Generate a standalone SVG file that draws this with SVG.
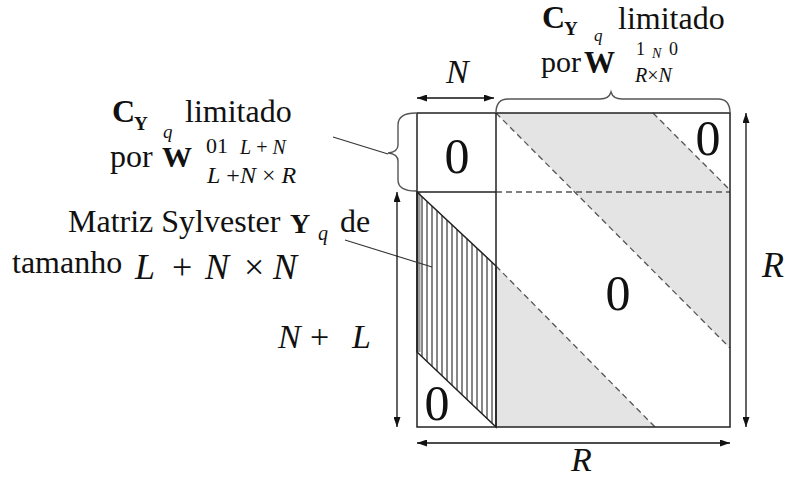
<svg xmlns="http://www.w3.org/2000/svg" width="788" height="479" viewBox="0 0 788 479" font-family="'Liberation Serif', 'Times New Roman', serif">
<defs>
<marker id="ah" viewBox="0 0 10 7" markerWidth="10" markerHeight="7" refX="10" refY="3.5" markerUnits="userSpaceOnUse" orient="auto-start-reverse">
<path d="M0,0 L10,3.5 L0,7 z" fill="#111"/>
</marker>
</defs>
<style>
text{font-family:'Liberation Serif','Times New Roman',serif;fill:#111}
.t{font-size:32px}
.b{font-weight:bold}
.i{font-style:italic}
.z{font-size:50px;text-anchor:middle}
.gray{fill:#e4e4e4;stroke:none}
.dash{stroke:#555;stroke-width:1.3;stroke-dasharray:6 4;fill:none}
.solid{stroke:#222;stroke-width:1.5;fill:none}
.brace{stroke:#555;stroke-width:1.4;fill:none}
.lead{stroke:#333;stroke-width:1.1;fill:none}
.arr{stroke:#111;stroke-width:1.3;fill:none;marker-start:url(#ah);marker-end:url(#ah)}
.hatch{stroke:#111;stroke-width:1}
</style>
<rect width="788" height="479" fill="#fff"/>

<g id="matrix">
<polygon class="gray" points="496,113 653,113 730,190 730,348"/>
<polygon class="gray" points="496,266 655,427 496,427"/>
<g id="sylvester">
<rect x="417" y="192" width="3.5" height="160" fill="#9a9a9a"/>
<g class="hatch">
<line x1="422" y1="196.7" x2="422" y2="356.7"/>
<line x1="427" y1="201.4" x2="427" y2="361.5"/>
<line x1="432" y1="206.1" x2="432" y2="366.2"/>
<line x1="437" y1="210.7" x2="437" y2="371"/>
<line x1="442" y1="215.4" x2="442" y2="375.7"/>
<line x1="447" y1="220.1" x2="447" y2="380.5"/>
<line x1="452" y1="224.8" x2="452" y2="385.2"/>
<line x1="457" y1="229.5" x2="457" y2="390"/>
<line x1="462" y1="234.2" x2="462" y2="394.7"/>
<line x1="467" y1="238.8" x2="467" y2="399.5"/>
<line x1="472" y1="243.5" x2="472" y2="404.2"/>
<line x1="477" y1="248.2" x2="477" y2="409"/>
<line x1="482" y1="252.9" x2="482" y2="413.7"/>
<line x1="487" y1="257.6" x2="487" y2="418.5"/>
<line x1="492" y1="262.3" x2="492" y2="423.2"/>
</g>
<polygon class="solid" points="417,192 496,266 496,427 417,352"/>
</g>
<line class="dash" x1="496" y1="113" x2="730" y2="348"/>
<line class="dash" x1="653" y1="113" x2="730" y2="190"/>
<line class="dash" x1="496" y1="266" x2="655" y2="427"/>
<line class="dash" x1="496" y1="192" x2="730" y2="192"/>
<rect class="solid" x="417" y="113" width="313" height="314"/>
<line class="solid" x1="496" y1="113" x2="496" y2="427"/>
<line class="solid" x1="417" y1="192" x2="496" y2="192"/>
<text class="z" x="457" y="173">0</text>
<text class="z" x="708" y="155">0</text>
<text class="z" x="618" y="310">0</text>
<text class="z" x="437" y="420">0</text>
</g>

<g id="connectors">
<path class="brace" d="M496,113 Q496,99 508,99 L600,99 Q609,99 611,92 Q613,99 622,99 L718,99 Q730,99 730,113"/>
<path class="brace" d="M416,113 Q398,113 398,125 L398,145 Q398,152 388,153 Q398,154 398,161 L398,180 Q398,191 416,191"/>
<line class="lead" x1="333" y1="137" x2="388" y2="154"/>
<line class="lead" x1="345" y1="240" x2="432" y2="267"/>
<line class="arr" x1="417" y1="98" x2="494" y2="98"/>
<line class="arr" x1="397" y1="192" x2="397" y2="427"/>
<line class="arr" x1="746" y1="113" x2="746" y2="427"/>
<line class="arr" x1="417" y1="443" x2="730" y2="443"/>
</g>

<g id="label-top">
<text class="t b" x="542" y="28">C</text>
<text class="b" font-size="19" x="564" y="35">Y</text>
<text class="i" font-size="17" x="594" y="41">q</text>
<text class="t" x="618" y="29">limitado</text>
<text font-size="30" x="541" y="72">por</text>
<text class="b" font-size="31" x="584" y="73">W</text>
<text font-size="18" x="636" y="55">1</text>
<text class="i" font-size="14" x="652" y="58">N</text>
<text font-size="18" x="669" y="55">0</text>
<text font-size="20" x="635" y="82"><tspan class="i">R</tspan>×<tspan class="i">N</tspan></text>
</g>

<g id="label-left">
<text class="t b" x="112" y="122">C</text>
<text class="b" font-size="19" x="134" y="130">Y</text>
<text class="i" font-size="19" x="163" y="138">q</text>
<text class="t" x="185" y="122">limitado</text>
<text class="t" x="110" y="167">por</text>
<text class="b" font-size="30" x="162" y="167">W</text>
<text font-size="22" x="206" y="153">01</text>
<text font-size="20" x="240" y="154"><tspan class="i">L</tspan> + <tspan class="i">N</tspan></text>
<text font-size="24" x="207" y="183"><tspan class="i">L</tspan> +<tspan class="i">N</tspan> × <tspan class="i">R</tspan></text>
</g>

<g id="label-sylvester">
<text class="t" x="68" y="232">Matriz Sylvester</text>
<text class="b" font-size="28" x="290" y="233">Y</text>
<text class="i" font-size="20" x="318" y="240">q</text>
<text class="t" x="340" y="232">de</text>
<text class="t" x="12" y="273">tamanho</text>
<text class="i" font-size="36" x="135" y="279">L</text>
<text font-size="36" x="172" y="279">+</text>
<text class="i" font-size="36" x="205" y="279">N</text>
<text font-size="36" x="244" y="279">×</text>
<text class="i" font-size="36" x="273" y="279">N</text>
</g>

<g id="dim-labels">
<text class="i" font-size="34" x="446" y="83">N</text>
<text class="i" font-size="34" x="278" y="348">N</text>
<text font-size="34" x="310" y="348">+</text>
<text class="i" font-size="34" x="352" y="348">L</text>
<text class="i" font-size="36" x="762" y="277">R</text>
<text class="i" font-size="34" x="571" y="471">R</text>
</g>
</svg>
